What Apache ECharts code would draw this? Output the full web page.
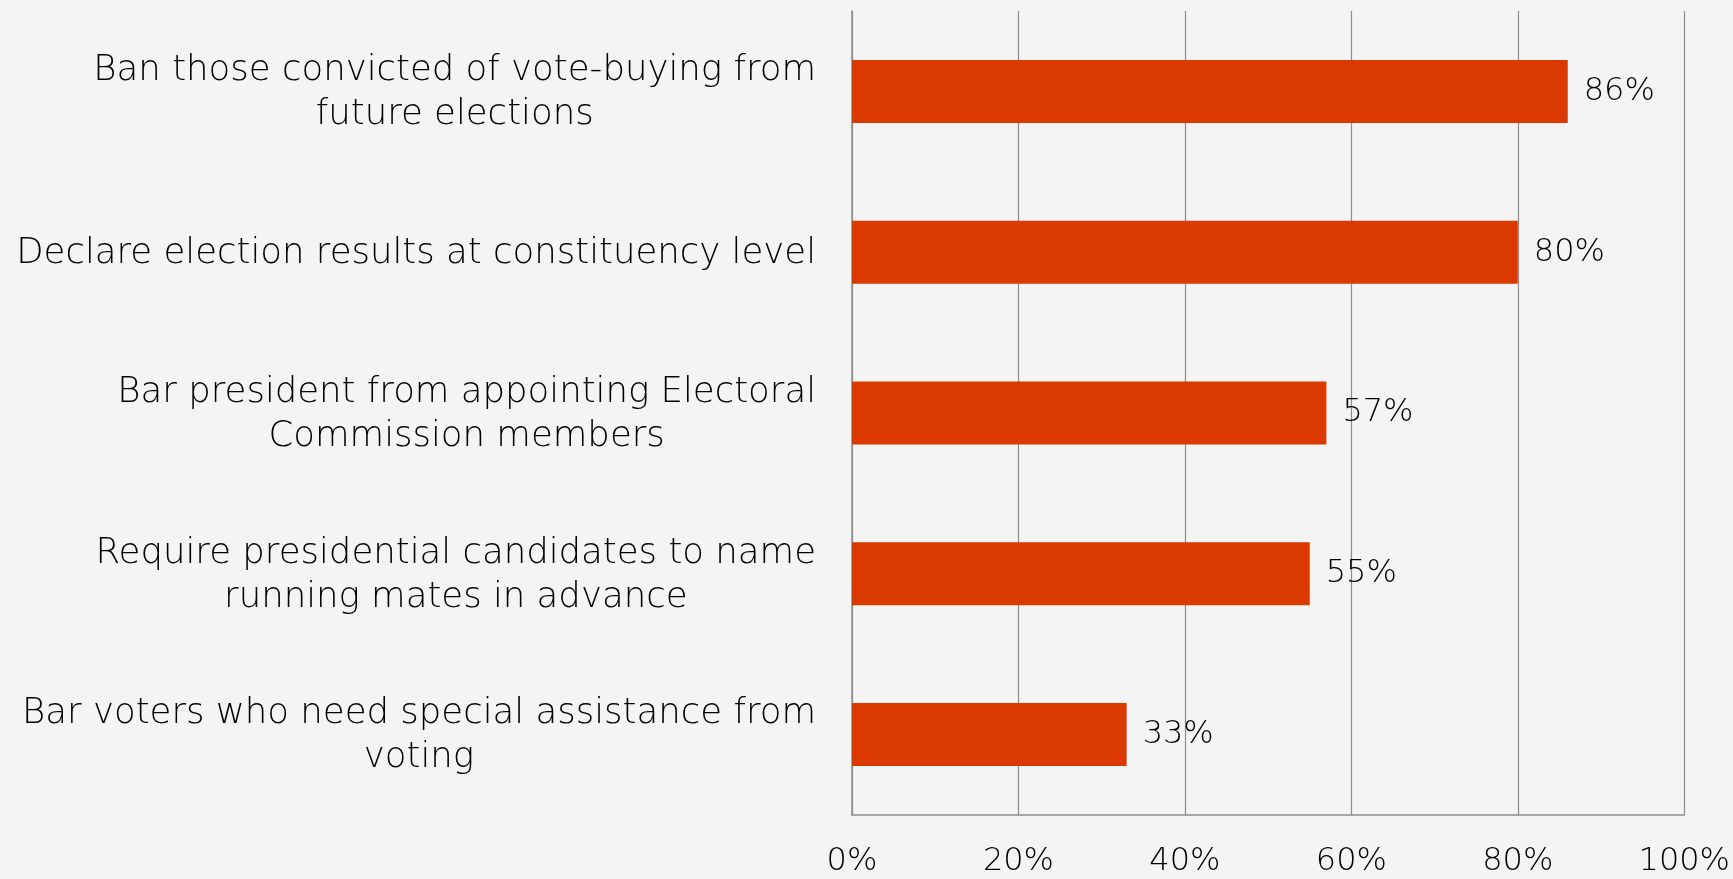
<!DOCTYPE html>
<html>
<head>
<meta charset="utf-8">
<script src="https://cdn.jsdelivr.net/npm/echarts@6/dist/echarts.min.js"></script>
<style>
  html, body { margin: 0; padding: 0; background: #f4f4f4; }
  #chart { width: 1733px; height: 879px; }
</style>
</head>
<body>
<div id="chart"></div>
<script>
// Proposed electoral reforms and share of support (%)
const categories = [
  'Ban those convicted of vote-buying from\nfuture elections',
  'Declare election results at constituency level',
  'Bar president from appointing Electoral\nCommission members',
  'Require presidential candidates to name\nrunning mates in advance',
  'Bar voters who need special assistance from\nvoting'
];
const support = [86, 80, 57, 55, 33];
const tickValues = [0, 20, 40, 60, 80, 100];

const FONT = 'DejaVu Sans';
const chart = echarts.init(document.getElementById('chart'));

chart.setOption({
  backgroundColor: '#f4f4f4',
  animation: false,
  grid: { left: 852, right: 47, top: 11, bottom: 64, containLabel: false },
  xAxis: {
    type: 'value',
    min: tickValues[0],
    max: tickValues[tickValues.length - 1],
    interval: 20,
    axisLine: { show: true, lineStyle: { color: '#8c8c8c', width: 1.5 } },
    axisTick: { show: false },
    splitLine: { show: true, lineStyle: { color: '#8c8c8c', width: 1.2 } },
    axisLabel: {
      formatter: '{value}%',
      color: '#000',
      fontFamily: FONT,
      fontWeight: 200,
      fontSize: 32,
      margin: 31
    }
  },
  yAxis: {
    type: 'category',
    inverse: true,
    data: categories,
    axisLine: { show: true, lineStyle: { color: '#8c8c8c', width: 1.5 } },
    axisTick: { show: false },
    axisLabel: {
      margin: 36,
      formatter: function (v) {
        return v.split('\n').map(function (s) { return '{c|' + s + '}'; }).join('\n');
      },
      rich: {
        c: { align: 'center', color: '#000', fontFamily: FONT, fontWeight: 200, fontSize: 35.5, lineHeight: 44, padding: [3, 0, 0, 0] }
      }
    }
  },
  series: [{
    type: 'bar',
    data: support,
    barWidth: 63,
    itemStyle: { color: '#da3900' },
    label: {
      show: true,
      position: 'right',
      distance: 16,
      formatter: '{c}%',
      color: '#000',
      fontFamily: FONT,
      fontWeight: 200,
      fontSize: 32
    }
  }]
});
</script>
</body>
</html>
